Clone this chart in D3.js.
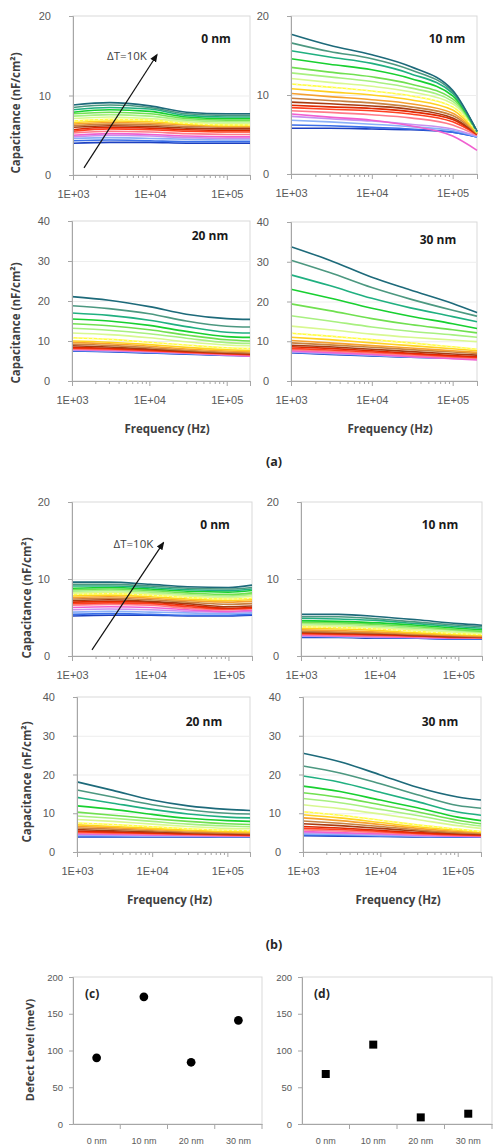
<!DOCTYPE html>
<html>
<head>
<meta charset="utf-8">
<script src="https://d3js.org/d3.v7.min.js"></script>
<style>
  body { margin: 0; background: #fff; }
  svg { display: block; font-family: "Open Sans", Lato, sans-serif; }
  .tick text { fill: #595959; }
</style>
</head>
<body>
<svg id="fig" width="494" height="1148"></svg>
<script>
// frequency grid the curves were read at (Hz)
var freqs = [1e3, 3e3, 1e4, 3e4, 1e5, 2e5];
var xTicks = [1e3, 1e4, 1e5];
var xTickLabels = ["1E+03", "1E+04", "1E+05"];
var capTicks20 = [0, 10, 20];
var capTicks40 = [0, 10, 20, 30, 40];

// curve colours, lowest temperature first
var palette = ["#1c40c0", "#3a6ee8", "#8ab0f8", "#c890f0", "#f060d0", "#ff7a8a", "#ff4020",
  "#e02800", "#a83a10", "#c88040", "#f5a030", "#ffd020", "#ffff40", "#d8f890", "#a8f080",
  "#70e050", "#18d030", "#20b080", "#4c9880", "#1d6a7a"];
var dottedIndex = 12; // the yellow curve is drawn with a light dotted overlay

// (a) capacitance curves, nF/cm2, one row per temperature
var a0Curves = [
  [4.0,4.1,4.1,4.0,4.0,4.0], [4.3,4.4,4.3,4.2,4.2,4.2], [4.6,4.7,4.6,4.5,4.4,4.4],
  [4.8,5.0,4.9,4.7,4.6,4.6], [5.0,5.2,5.1,4.9,4.8,4.8], [5.3,5.5,5.4,5.2,5.1,5.1],
  [5.5,5.8,5.7,5.5,5.4,5.4], [5.7,6.0,5.9,5.7,5.6,5.6], [6.0,6.2,6.1,5.9,5.8,5.8],
  [6.2,6.4,6.3,6.1,6.0,6.0], [6.4,6.6,6.5,6.3,6.1,6.1], [6.6,6.8,6.7,6.4,6.2,6.2],
  [6.8,7.0,6.9,6.5,6.3,6.3], [7.1,7.3,7.1,6.7,6.5,6.5], [7.4,7.6,7.4,6.9,6.7,6.7],
  [7.7,7.9,7.7,7.1,6.9,6.9], [7.9,8.2,8.0,7.3,7.1,7.1], [8.2,8.5,8.3,7.5,7.3,7.3],
  [8.5,8.8,8.5,7.7,7.5,7.5], [8.8,9.1,8.7,7.9,7.7,7.7]
];
var a10Curves = [
  [5.8,5.8,5.7,5.6,5.3,4.7], [6.2,6.1,5.9,5.7,5.3,4.7], [6.8,6.6,6.3,6.0,5.5,4.7],
  [7.3,7.0,6.7,6.3,5.7,4.8], [7.6,7.2,6.8,6.1,4.8,3.0], [8.0,7.8,7.5,7.1,6.2,4.9],
  [8.4,8.2,8.0,7.6,6.6,5.0], [8.7,8.5,8.3,7.9,6.9,5.0], [9.1,8.9,8.6,8.2,7.1,5.1],
  [9.6,9.3,9.0,8.5,7.4,5.1], [10.2,9.8,9.4,8.9,7.7,5.2], [10.8,10.4,10.0,9.4,8.1,5.2],
  [11.4,11.0,10.5,9.9,8.5,5.3], [12.1,11.6,11.1,10.4,8.9,5.3], [12.8,12.3,11.7,10.9,9.2,5.3],
  [13.5,12.9,12.3,11.4,9.5,5.3], [14.6,13.9,13.2,12.1,9.9,5.4], [15.6,14.8,14.0,12.7,10.2,5.4],
  [16.6,15.5,14.6,13.2,10.4,5.4], [17.7,16.3,15.1,13.6,10.6,5.4]
];
var a20Curves = [
  [7.5,7.3,7.0,6.7,6.4,6.3], [7.6,7.4,7.1,6.8,6.5,6.3], [7.7,7.5,7.2,6.9,6.5,6.3],
  [7.8,7.6,7.3,7.0,6.6,6.4], [7.9,7.7,7.4,7.0,6.5,6.2], [8.0,7.8,7.5,7.1,6.7,6.5],
  [8.2,8.0,7.6,7.2,6.8,6.6], [8.4,8.2,7.8,7.3,6.9,6.7], [8.8,8.5,8.0,7.5,7.0,6.8],
  [9.2,8.9,8.3,7.7,7.2,7.0], [9.6,9.3,8.7,8.0,7.5,7.3], [10.0,9.7,9.1,8.4,7.8,7.6],
  [10.8,10.4,9.7,9.0,8.3,8.1], [12.0,11.6,10.8,9.8,9.0,8.8], [13.2,12.7,11.8,10.7,9.6,9.4],
  [14.3,13.8,12.8,11.5,10.3,10.0], [15.5,15.0,13.9,12.4,11.1,10.9], [17.0,16.4,15.2,13.6,12.2,12.0],
  [18.8,18.1,16.8,15.0,13.7,13.5], [21.1,20.2,18.6,16.7,15.6,15.4]
];
var a30Curves = [
  [7.1,6.7,6.3,6.0,5.8,5.7], [7.2,6.8,6.4,6.0,5.8,5.6], [7.3,6.9,6.5,6.1,5.8,5.6],
  [7.4,7.0,6.6,6.1,5.7,5.5], [7.6,7.2,6.7,6.2,5.6,5.3], [7.9,7.5,7.0,6.5,6.0,5.7],
  [8.2,7.8,7.3,6.8,6.2,5.9], [8.6,8.2,7.6,7.0,6.4,6.1], [9.0,8.6,8.0,7.4,6.8,6.5],
  [9.6,9.1,8.5,7.9,7.3,6.9], [10.2,9.6,8.9,8.3,7.6,7.2], [11.0,10.4,9.6,8.9,8.1,7.6],
  [12.0,11.3,10.4,9.6,8.6,8.0], [13.8,12.9,11.8,11.0,10.3,9.9], [16.4,15.1,13.6,12.5,11.6,11.0],
  [19.4,17.7,15.7,14.2,12.9,12.1], [23.1,20.9,18.3,16.3,14.4,13.2], [26.7,24.0,20.8,18.4,16.2,14.9],
  [30.4,27.3,23.5,20.6,17.8,16.3], [33.8,30.4,26.1,22.9,19.5,17.2]
];

// (b) capacitance curves
var b0Curves = [
  [5.2,5.3,5.3,5.2,5.2,5.3], [5.4,5.5,5.4,5.3,5.3,5.4], [5.7,5.8,5.7,5.6,5.5,5.6],
  [6.0,6.1,6.0,5.8,5.7,5.8], [6.3,6.4,6.3,6.0,5.8,5.9], [6.6,6.7,6.6,6.2,6.0,6.1],
  [6.8,6.9,6.8,6.4,6.1,6.2], [7.0,7.1,7.0,6.6,6.2,6.3], [7.2,7.3,7.1,6.8,6.4,6.5],
  [7.4,7.5,7.3,7.0,6.7,6.8], [7.6,7.7,7.5,7.2,7.0,7.1], [7.8,7.9,7.7,7.4,7.2,7.3],
  [8.0,8.1,7.9,7.6,7.4,7.5], [8.2,8.3,8.1,7.8,7.6,7.8], [8.4,8.5,8.3,8.0,7.8,8.0],
  [8.6,8.7,8.5,8.2,8.0,8.2], [8.8,8.9,8.7,8.4,8.3,8.5], [9.1,9.1,8.9,8.6,8.5,8.7],
  [9.3,9.3,9.1,8.8,8.7,8.9], [9.6,9.6,9.3,9.0,8.9,9.2]
];
var b10Curves = [
  [2.4,2.4,2.3,2.3,2.2,2.2], [2.5,2.5,2.4,2.3,2.2,2.2], [2.6,2.5,2.4,2.4,2.3,2.3],
  [2.6,2.6,2.5,2.4,2.3,2.3], [2.7,2.6,2.5,2.4,2.3,2.3], [2.8,2.7,2.6,2.5,2.4,2.3],
  [2.9,2.8,2.7,2.6,2.4,2.4], [3.0,2.9,2.8,2.6,2.5,2.4], [3.1,3.0,2.9,2.7,2.5,2.5],
  [3.2,3.1,3.0,2.8,2.6,2.5], [3.4,3.3,3.1,2.9,2.7,2.6], [3.6,3.5,3.3,3.0,2.8,2.7],
  [3.8,3.7,3.5,3.2,2.9,2.8], [4.0,3.9,3.7,3.4,3.1,3.0], [4.2,4.1,3.9,3.6,3.3,3.1],
  [4.4,4.3,4.1,3.8,3.4,3.2], [4.6,4.5,4.3,4.0,3.6,3.4], [4.9,4.8,4.6,4.2,3.8,3.6],
  [5.1,5.1,4.8,4.4,4.0,3.8], [5.4,5.4,5.1,4.7,4.2,4.0]
];
var b20Curves = [
  [3.9,3.9,3.9,3.9,3.9,3.9], [4.1,4.0,4.0,4.0,4.0,4.0], [4.3,4.2,4.1,4.1,4.0,4.0],
  [4.5,4.4,4.3,4.2,4.1,4.1], [4.7,4.6,4.4,4.3,4.2,4.2], [4.9,4.8,4.6,4.4,4.3,4.2],
  [5.2,5.0,4.8,4.6,4.4,4.3], [5.4,5.2,4.9,4.7,4.5,4.4], [5.8,5.5,5.2,4.9,4.7,4.6],
  [6.2,5.9,5.5,5.1,4.9,4.8], [6.6,6.3,5.8,5.4,5.1,5.0], [7.0,6.6,6.1,5.6,5.3,5.2],
  [7.5,7.1,6.5,6.0,5.6,5.5], [8.4,7.9,7.2,6.6,6.1,6.0], [9.3,8.7,7.9,7.2,6.7,6.5],
  [10.3,9.5,8.6,7.9,7.3,7.1], [11.9,11.0,9.7,8.7,8.1,7.9], [14.1,12.6,11.0,9.8,9.0,8.8],
  [16.0,14.2,12.2,10.9,10.0,9.8], [18.1,15.9,13.4,11.9,11.0,10.7]
];
var b30Curves = [
  [4.2,4.1,4.0,3.9,3.8,3.8], [4.4,4.3,4.1,4.0,3.9,3.9], [4.7,4.5,4.3,4.1,4.0,4.0],
  [5.0,4.8,4.5,4.2,4.1,4.0], [5.3,5.0,4.7,4.4,4.1,4.0], [5.7,5.4,5.0,4.6,4.3,4.2],
  [6.1,5.8,5.3,4.8,4.4,4.3], [6.6,6.2,5.6,5.0,4.6,4.4], [7.3,6.8,6.1,5.4,4.8,4.6],
  [8.0,7.4,6.6,5.7,5.0,4.8], [8.8,8.1,7.1,6.1,5.3,5.0], [9.6,8.8,7.6,6.5,5.6,5.2],
  [10.4,9.5,8.2,7.0,5.9,5.3], [12.2,11.2,9.8,8.4,6.8,6.1], [13.8,12.7,11.0,9.4,7.5,6.7],
  [15.3,14.1,12.2,10.4,8.2,7.3], [17.0,15.6,13.4,11.4,9.0,8.1], [19.6,18.0,15.4,13.0,10.3,9.5],
  [22.2,20.4,17.6,14.8,12.0,11.3], [25.5,23.3,19.9,16.7,14.2,13.4]
];

// arrow annotations [freq, capacitance] start -> end
var arrowA = [[1.39e3, 0.9], [1.23e4, 15.1]];
var arrowB = [[1.8e3, 0.8], [1.47e4, 14.7]];

// (c), (d) defect levels
var defectCats = ["0 nm", "10 nm", "20 nm", "30 nm"];
var defectC = [90, 173, 84, 141];
var defectD = [68, 108, 9, 14];
var defectTicks = [0, 50, 100, 150, 200];

var svg = d3.select("#fig");

var defs = svg.append("defs");
defs.append("marker").attr("id", "head")
  .attr("viewBox", "0 0 10 10").attr("refX", 8).attr("refY", 5)
  .attr("markerWidth", 7).attr("markerHeight", 7).attr("orient", "auto")
  .append("path").attr("d", "M0,1L10,5L0,9Z").attr("fill", "#111");

// box: [left, top, right, bottom]
var panels = [
  { curves: a0Curves, name: "0 nm", yMax: 20, yTicks: capTicks20, box: [73, 16, 250, 175], nameAt: [216, 39], arrow: arrowA },
  { curves: a10Curves, name: "10 nm", yMax: 20, yTicks: capTicks20, box: [291, 16, 477, 174], nameAt: [447, 39] },
  { curves: a20Curves, name: "20 nm", yMax: 40, yTicks: capTicks40, box: [72, 221, 250, 381], nameAt: [210, 236], xTitle: true },
  { curves: a30Curves, name: "30 nm", yMax: 40, yTicks: capTicks40, box: [291, 222, 477, 381], nameAt: [438, 240], xTitle: true },
  { curves: b0Curves, name: "0 nm", yMax: 20, yTicks: capTicks20, box: [72, 502, 252, 656], nameAt: [215, 525], arrow: arrowB },
  { curves: b10Curves, name: "10 nm", yMax: 20, yTicks: capTicks20, box: [301, 502, 482, 656], nameAt: [440, 525] },
  { curves: b20Curves, name: "20 nm", yMax: 40, yTicks: capTicks40, box: [77, 697, 250, 852], nameAt: [204, 722], xTitle: true },
  { curves: b30Curves, name: "30 nm", yMax: 40, yTicks: capTicks40, box: [303, 697, 481, 852], nameAt: [440, 722], xTitle: true }
];

function styleAxis(sel) {
  sel.select(".domain").attr("stroke", "#a6a6a6");
  sel.selectAll(".tick line").attr("stroke", "#a6a6a6");
}

function drawCapPanel(p) {
  var L = p.box[0], T = p.box[1], R = p.box[2], B = p.box[3];
  var g = svg.append("g");
  var x = d3.scaleLog().domain([1e3, 2e5]).range([L, R]);
  var y = d3.scaleLinear().domain([0, p.yMax]).range([B, T]);

  g.append("rect").attr("x", L).attr("y", T).attr("width", R - L).attr("height", B - T)
    .attr("fill", "none").attr("stroke", "#d9d9d9");

  g.append("g").attr("transform", "translate(" + L + ",0)")
    .call(d3.axisLeft(y).tickValues(p.yTicks.slice(1, -1)).tickSize(-(R - L)).tickFormat(""))
    .call(function (s) { s.select(".domain").remove(); s.selectAll("line").attr("stroke", "#ededed"); });

  var line = d3.line()
    .x(function (d, i) { return x(freqs[i]); })
    .y(function (d) { return y(d); })
    .curve(d3.curveMonotoneX);

  g.append("g").selectAll("path").data(p.curves).join("path")
    .attr("d", line).attr("fill", "none")
    .attr("stroke", function (d, i) { return palette[i]; })
    .attr("stroke-width", 1.6);

  // light dots over the yellow curve, as in the source figure
  g.append("path").attr("d", line(p.curves[dottedIndex])).attr("fill", "none")
    .attr("stroke", "#fff6c0").attr("stroke-width", 1).attr("stroke-dasharray", "2,3");

  // axes
  g.append("g").attr("transform", "translate(" + L + ",0)")
    .call(d3.axisLeft(y).tickValues(p.yTicks).tickSize(4).tickPadding(18))
    .call(styleAxis)
    .selectAll("text").attr("font-size", 11);

  g.append("g").attr("transform", "translate(0," + B + ")")
    .call(d3.axisBottom(x).tickValues(x.ticks().filter(function (v) { return xTicks.indexOf(v) < 0; }))
      .tickSize(3).tickFormat(""))
    .call(styleAxis);

  g.append("g").attr("transform", "translate(0," + B + ")")
    .call(d3.axisBottom(x).tickValues(xTicks).tickSize(5).tickPadding(10)
      .tickFormat(function (d, i) { return xTickLabels[i]; }))
    .call(styleAxis)
    .selectAll("text").attr("font-size", 11);

  g.append("text").attr("x", p.nameAt[0]).attr("y", p.nameAt[1]).attr("dy", "0.35em")
    .attr("text-anchor", "middle").attr("font-weight", "bold").attr("font-size", 12)
    .attr("fill", "#1a1a1a").text(p.name);

  if (p.xTitle) {
    g.append("text").attr("x", (L + R) / 2 + 6).attr("y", B + 52)
      .attr("text-anchor", "middle").attr("font-weight", "bold").attr("font-size", 11.5)
      .attr("fill", "#404040").text("Frequency (Hz)");
  }

  if (p.arrow) {
    var a = p.arrow;
    g.append("line")
      .attr("x1", x(a[0][0])).attr("y1", y(a[0][1]))
      .attr("x2", x(a[1][0])).attr("y2", y(a[1][1]))
      .attr("stroke", "#111").attr("stroke-width", 1.2).attr("marker-end", "url(#head)");
    g.append("text").attr("x", x(a[1][0]) - 10).attr("y", y(a[1][1]) + 5)
      .attr("text-anchor", "end").attr("font-size", 11.5).attr("fill", "#404040")
      .text("\u0394T=10K");
  }
}

panels.forEach(drawCapPanel);

// y titles
[[16, 113], [16, 323], [27, 598], [27, 782]].forEach(function (c) {
  svg.append("text").attr("transform", "translate(" + c[0] + "," + c[1] + ") rotate(-90)")
    .attr("dy", "0.35em").attr("text-anchor", "middle").attr("font-weight", "bold")
    .attr("font-size", 11.5).attr("fill", "#404040").text("Capacitance (nF/cm\u00b2)");
});

svg.append("text").attr("x", 274).attr("y", 462).attr("dy", "0.35em").attr("text-anchor", "middle")
  .attr("font-weight", "bold").attr("font-size", 12.5).attr("fill", "#262626").text("(a)");
svg.append("text").attr("x", 274).attr("y", 945).attr("dy", "0.35em").attr("text-anchor", "middle")
  .attr("font-weight", "bold").attr("font-size", 12.5).attr("fill", "#262626").text("(b)");

// defect level panels
function drawDefect(box, values, tag, shape) {
  var L = box[0], T = box[1], R = box[2], B = box[3];
  var g = svg.append("g");
  var x = d3.scaleBand().domain(defectCats).range([L, R]);
  var y = d3.scaleLinear().domain([0, 200]).range([B, T]);

  g.append("rect").attr("x", L).attr("y", T).attr("width", R - L).attr("height", B - T)
    .attr("fill", "none").attr("stroke", "#d9d9d9");

  g.append("g").attr("transform", "translate(" + L + ",0)")
    .call(d3.axisLeft(y).tickValues(defectTicks).tickSize(4).tickPadding(6))
    .call(styleAxis)
    .selectAll("text").attr("font-size", 9.5);

  var xa = g.append("g").attr("transform", "translate(0," + B + ")")
    .call(d3.axisBottom(x).tickSize(0).tickPadding(14))
    .call(styleAxis);
  xa.selectAll("text").attr("font-size", 9);
  xa.selectAll(".bound").data(defectCats).join("line")
    .attr("x1", function (d) { return x(d) + x.bandwidth(); })
    .attr("x2", function (d) { return x(d) + x.bandwidth(); })
    .attr("y1", 0).attr("y2", 5).attr("stroke", "#a6a6a6");

  g.append("g").selectAll("path").data(values).join("path")
    .attr("transform", function (d, i) {
      return "translate(" + (x(defectCats[i]) + x.bandwidth() / 2) + "," + y(d) + ")";
    })
    .attr("d", d3.symbol().type(shape).size(shape === d3.symbolSquare ? 64 : 60))
    .attr("fill", "#000");

  g.append("text").attr("x", L + 12).attr("y", T + 17).attr("dy", "0.35em")
    .attr("font-weight", "bold").attr("font-size", 12).attr("fill", "#262626").text(tag);
}

drawDefect([73, 977, 262, 1124], defectC, "(c)", d3.symbolCircle);
drawDefect([302, 977, 492, 1124], defectD, "(d)", d3.symbolSquare);

svg.append("text").attr("transform", "translate(30,1050) rotate(-90)")
  .attr("dy", "0.35em").attr("text-anchor", "middle").attr("font-weight", "bold")
  .attr("font-size", 11).attr("fill", "#404040").text("Defect Level (meV)");
</script>
</body>
</html>
